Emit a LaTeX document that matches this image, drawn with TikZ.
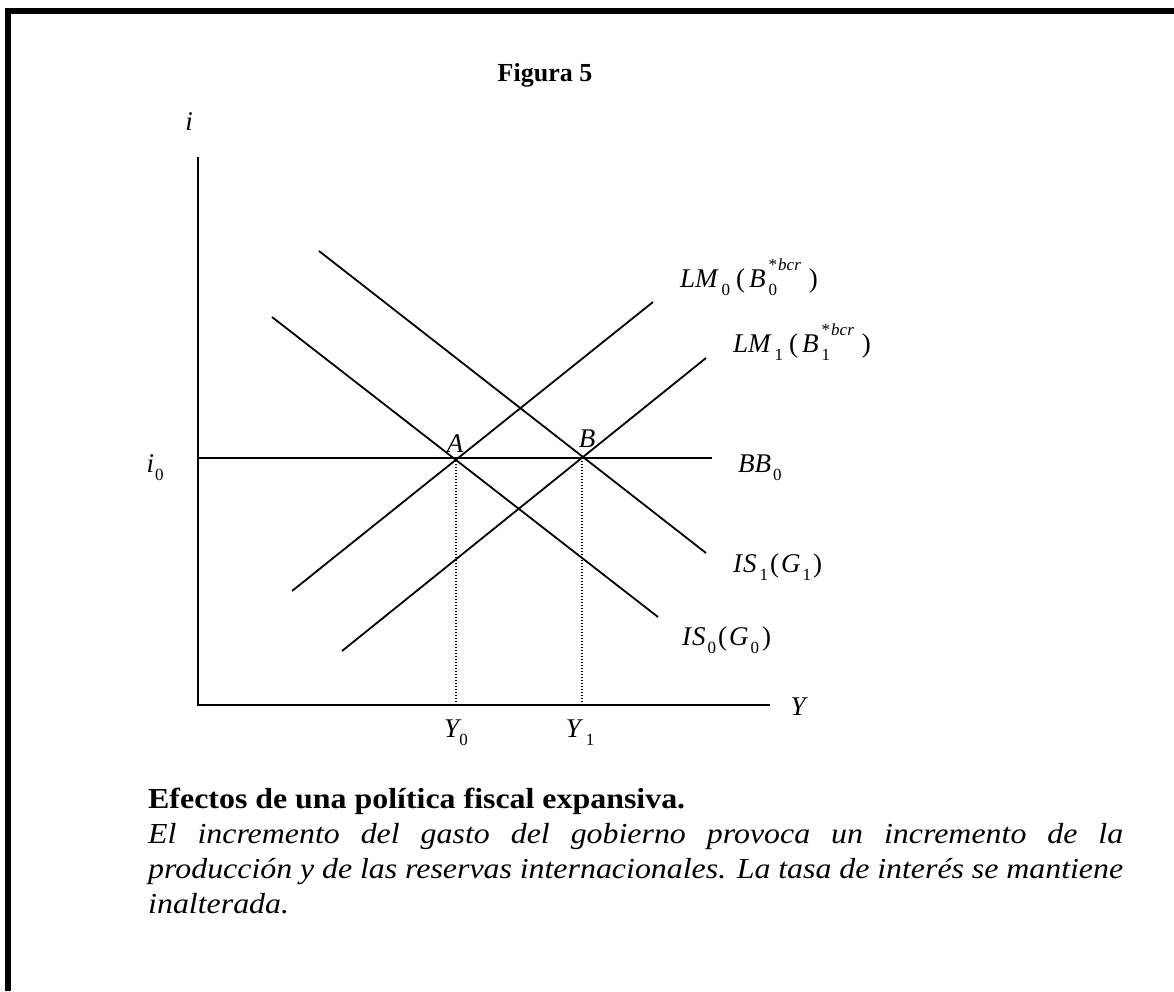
\documentclass[tikz,border=0pt]{standalone}
\usepackage{fontspec}
\setmainfont{Liberation Serif}
\newfontfamily\capfont[FakeStretch=1.1]{Liberation Serif}
\newcommand\lblfont{\fontsize{27}{30}\selectfont\itshape}
\newcommand\dn[1]{\raisebox{-0.3em}{\fontsize{17}{17}\selectfont\upshape #1}}
\newcommand\upr[1]{\raisebox{0.6em}{\fontsize{17}{17}\selectfont #1}}
\newcommand\kk[1]{\hspace*{#1pt}}
\begin{document}
\begin{tikzpicture}[x=1pt,y=-1pt,
  curve/.style={line width=1.8pt},
  axis/.style={line width=1.8pt},
  guide/.style={line width=1.5pt, dash pattern=on 1.3pt off 1.7pt},
  lbl/.style={font=\lblfont, inner sep=0pt},
  frame/.style={line width=6pt}]
\useasboundingbox (0,0) rectangle (1174,991);
% frame
\draw[frame] (8,991) -- (8,11) -- (1174,11);
% title
\node[font=\fontsize{26}{30}\selectfont\bfseries, inner sep=0pt, anchor=base] (title) at (545,81) {Figura 5};
% axes
\coordinate (O) at (198,705);
\coordinate (ytop) at (198,157);
\coordinate (xend) at (770,705);
\draw[axis] (ytop) -- (O) -- (xend);
\node[lbl, anchor=base] (ilab) at (189,130) {i};
\node[lbl, anchor=base] (Ylab) at (798,715) {Y};
% curves
\coordinate (bb1) at (198,458);
\coordinate (bb2) at (712,458);
\coordinate (is0a) at (272,317);
\coordinate (is0b) at (658,617);
\coordinate (is1a) at (319,251);
\coordinate (is1b) at (706,553);
\coordinate (lm0a) at (292,591);
\coordinate (lm0b) at (653,302);
\coordinate (lm1a) at (342,651);
\coordinate (lm1b) at (706,358);
\draw[curve] (bb1) -- (bb2);
\draw[curve] (is0a) -- (is0b);
\draw[curve] (is1a) -- (is1b);
\draw[curve] (lm0a) -- (lm0b);
\draw[curve] (lm1a) -- (lm1b);
% equilibrium points
\coordinate (pA) at (456,458);
\coordinate (pB) at (582,458);
\draw[guide] (pA) -- (pA |- O);
\draw[guide] (pB) -- (pB |- O);
\node[lbl, anchor=base] (Alab) at (455,452) {A};
\node[lbl, anchor=base] (Blab) at (587,447) {B};
% labels
\node[lbl, anchor=base] (i0lab) at (155,472) {i\kk{1}\dn{0}};
\node[lbl, anchor=base west] (bblab) at (738,472) {BB\kk{2}\dn{0}};
\node[lbl, anchor=base west] (lm0lab) at (680,287)
  {LM\kk{4}\dn{0}\kk{6}{\upshape(}\kk{4}B\kk{3}\rlap{\dn{0}}\upr{\upshape*\itshape\kk{1}bcr}\kk{8}{\upshape)}};
\node[lbl, anchor=base west] (lm1lab) at (733,352)
  {LM\kk{4}\dn{1}\kk{6}{\upshape(}\kk{4}B\kk{3}\rlap{\dn{1}}\upr{\upshape*\itshape\kk{1}bcr}\kk{8}{\upshape)}};
\node[lbl, anchor=base west] (is1lab) at (733,572)
  {I\kk{1}S\kk{3}\dn{1}\kk{2}{\upshape(}\kk{2}G\kk{2}\dn{1}\kk{2}{\upshape)}};
\node[lbl, anchor=base west] (is0lab) at (682,645)
  {I\kk{1}S\kk{2}\dn{0}\kk{2}{\upshape(}\kk{2}G\kk{2}\dn{0}\kk{3}{\upshape)}};
\node[lbl, anchor=base] (y0lab) at (456,737) {Y\dn{0}};
\node[lbl, anchor=base] (y1lab) at (580,737) {Y\kk{5}\dn{1}};
% caption
\node[anchor=base west, inner sep=0pt, font=\fontsize{29}{35}\capfont\bfseries] (capt) at (148,808)
  {Efectos de una política fiscal expansiva.};
\node[anchor=north west, inner sep=0pt, text width=975pt, align=justify,
      font=\fontsize{29}{35}\capfont\itshape] (cap) at (148,818.5)
  {\strut El incremento del gasto del gobierno provoca un incremento de la\linebreak
   producción y de las reservas internacionales. La tasa de interés se mantiene\linebreak
   inalterada.};
\end{tikzpicture}
\end{document}
